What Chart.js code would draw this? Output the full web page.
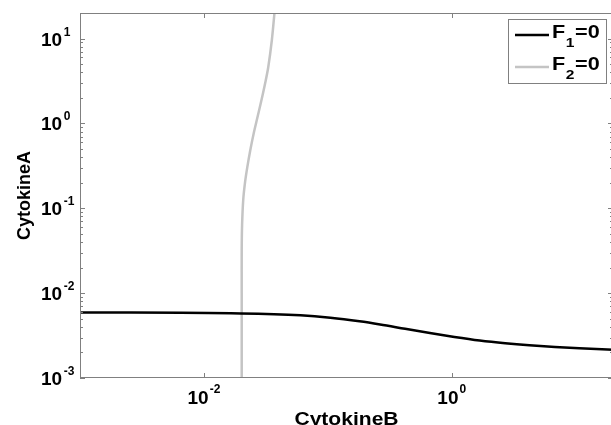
<!DOCTYPE html>
<html>
<head>
<meta charset="utf-8">
<script src="https://cdn.jsdelivr.net/npm/chart.js@4.4.1/dist/chart.umd.min.js"></script>
<style>
html,body{margin:0;padding:0;background:#fff;overflow:hidden;}
#wrap{width:614px;height:425px;position:relative;}
</style>
</head>
<body>
<div id="wrap"><canvas id="c"></canvas></div>
<script>
// ---- data ----
const f1X = [0.001, 0.0198, 0.0601, 0.1047, 0.18, 0.264, 0.42, 0.666, 1.05, 1.68, 2.7, 4.23, 6.8, 10.7, 20];
const f1Y = [0.00593, 0.00577, 0.00547, 0.00512, 0.00465, 0.00427, 0.0038, 0.00339, 0.00305, 0.00277, 0.00257, 0.00243, 0.00232, 0.00224, 0.00215];
const f2X = [0.02018, 0.02018, 0.02018, 0.02032, 0.02075, 0.02143, 0.02239, 0.02366, 0.02523, 0.02704, 0.02911, 0.03119, 0.03304, 0.03532, 0.03707, 0.0373];
const f2Y = [0.001, 0.01, 0.0321, 0.0633, 0.125, 0.198, 0.305, 0.483, 0.767, 1.18, 1.87, 2.97, 4.59, 9.55, 19.9, 23];
const seriesNames = ['F', 'F'];
const seriesSubs = ['1', '2'];
const seriesSuffix = ['=0', '=0'];
const xTickValues = [0.01, 1];
const xTickExponents = ['-2', '0'];
const yTickValues = [0.001, 0.01, 0.1, 1, 10];
const yTickExponents = ['-3', '-2', '-1', '0', '1'];
const xTitle = 'CytokineB';
const yTitle = 'CytokineA';
const xRange = [0.001, 20];
const yRange = [0.001, 20];

const toPts = (xs, ys) => xs.map((x, i) => ({x: x, y: ys[i]}));
const FONT = '"Liberation Sans", Arial, sans-serif';
const AXIS = '#808080';

const deco = {
  id: 'deco',
  afterDatasetsDraw(chart) {
    const ctx = chart.ctx, ca = chart.chartArea;
    const xs = chart.scales.x, ys = chart.scales.y;
    ctx.save();
    // frame
    ctx.strokeStyle = AXIS; ctx.lineWidth = 1;
    ctx.strokeRect(Math.round(ca.left) + 0.5, Math.round(ca.top) + 0.5, Math.round(ca.right - ca.left) - 1, Math.round(ca.bottom - ca.top) - 1);
    // y ticks (major + minor), both sides inward
    ctx.beginPath();
    const yMin = Math.log10(yRange[0]), yMax = Math.log10(yRange[1]);
    for (let e = Math.floor(yMin); e <= Math.ceil(yMax); e++) {
      for (let k = 1; k <= 9; k++) {
        const v = k * Math.pow(10, e);
        if (v < yRange[0] * 0.999 || v > yRange[1] * 1.001) continue;
        const py = Math.round(ys.getPixelForValue(v)) + 0.5;
        const len = k === 1 ? 5 : 3;
        ctx.moveTo(ca.left, py); ctx.lineTo(ca.left + len, py);
        ctx.moveTo(ca.right, py); ctx.lineTo(ca.right - len, py);
      }
    }
    xTickValues.forEach(v => {
      const px = Math.round(xs.getPixelForValue(v)) + 0.5;
      ctx.moveTo(px, ca.bottom); ctx.lineTo(px, ca.bottom - 5);
      ctx.moveTo(px, ca.top); ctx.lineTo(px, ca.top + 5);
    });
    ctx.stroke();

    // tick labels
    ctx.fillStyle = '#000';
    ctx.textBaseline = 'alphabetic';
    ctx.textAlign = 'left';
    const big = 'bold 19px ' + FONT, small = 'bold 12px ' + FONT;
    xTickValues.forEach((v, i) => {
      const px = xs.getPixelForValue(v);
      ctx.font = big; const w1 = ctx.measureText('10').width;
      ctx.font = small; const w2 = ctx.measureText(xTickExponents[i]).width;
      const x0 = px - (w1 + 1 + w2) / 2;
      ctx.font = big; ctx.fillText('10', x0, 404);
      ctx.font = small; ctx.fillText(xTickExponents[i], x0 + w1 + 1, 393);
    });
    yTickValues.forEach((v, i) => {
      const py = ys.getPixelForValue(v);
      ctx.font = big; const w1 = ctx.measureText('10').width;
      ctx.fillText('10', 41, py + 7);
      ctx.font = small; ctx.fillText(yTickExponents[i], 41 + w1 + 1.5, py - 3);
    });

    // axis titles
    ctx.font = 'bold 18px ' + FONT;
    ctx.save();
    ctx.translate(25, (ca.top + ca.bottom) / 2);
    ctx.rotate(-Math.PI / 2);
    ctx.textAlign = 'center'; ctx.textBaseline = 'middle';
    ctx.fillText(yTitle, 0, 0);
    ctx.restore();
    ctx.save();
    ctx.translate((ca.left + ca.right) / 2, 425);
    ctx.scale(1.17, 1);
    ctx.textAlign = 'center';
    ctx.fillText(xTitle, 0, 0);
    ctx.restore();

    // legend
    ctx.fillStyle = '#fff';
    ctx.fillRect(508.5, 19.5, 98, 64);
    ctx.strokeStyle = AXIS; ctx.lineWidth = 1;
    ctx.strokeRect(508.5, 19.5, 98, 64);
    const ds = chart.data.datasets;
    [0, 1].forEach(i => {
      const ly = 35 + i * 32;
      ctx.beginPath();
      ctx.strokeStyle = ds[i].borderColor; ctx.lineWidth = ds[i].borderWidth;
      ctx.moveTo(515, ly); ctx.lineTo(549, ly); ctx.stroke();
      ctx.save();
      ctx.translate(552, ly + 3);
      ctx.scale(1.2, 1);
      ctx.fillStyle = '#000'; ctx.textAlign = 'left';
      ctx.font = 'bold 18px ' + FONT;
      const wf = ctx.measureText(seriesNames[i]).width;
      ctx.fillText(seriesNames[i], 0, 0);
      ctx.font = 'bold 13px ' + FONT;
      const ws = ctx.measureText(seriesSubs[i]).width;
      ctx.fillText(seriesSubs[i], wf + 0.5, 9);
      ctx.font = 'bold 18px ' + FONT;
      ctx.fillText(seriesSuffix[i], wf + ws + 1, 0);
      ctx.restore();
    });
    ctx.restore();
  }
};

new Chart(document.getElementById('c'), {
  type: 'scatter',
  data: {
    datasets: [
      {label: 'F1=0', data: toPts(f1X, f1Y), showLine: true, borderColor: '#000000', borderWidth: 2.5, pointRadius: 0, cubicInterpolationMode: 'monotone', fill: false},
      {label: 'F2=0', data: toPts(f2X, f2Y), showLine: true, borderColor: '#c4c4c4', borderWidth: 2.5, pointRadius: 0, tension: 0.3, fill: false}
    ]
  },
  options: {
    responsive: true,
    maintainAspectRatio: false,
    animation: false,
    layout: {padding: {top: 13, right: 1, left: 0, bottom: 0}},
    plugins: {legend: {display: false}, tooltip: {enabled: false}},
    scales: {
      x: {type: 'logarithmic', min: xRange[0], max: xRange[1],
          ticks: {display: false}, grid: {display: false}, border: {display: false},
          afterFit: s => { s.height = 47; }},
      y: {type: 'logarithmic', min: yRange[0], max: yRange[1],
          ticks: {display: false}, grid: {display: false}, border: {display: false},
          afterFit: s => { s.width = 80; }}
    }
  },
  plugins: [deco]
});
</script>
</body>
</html>
